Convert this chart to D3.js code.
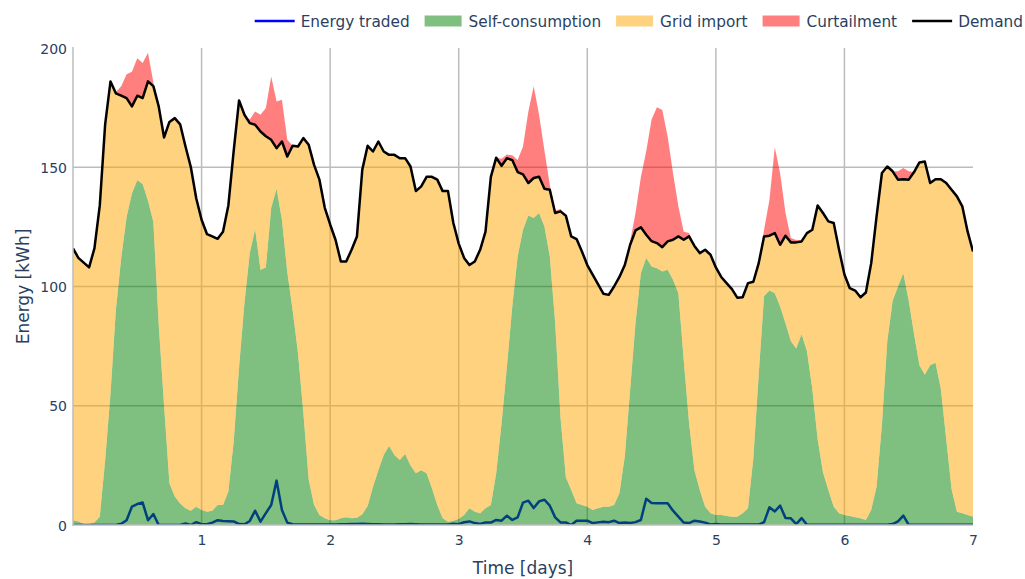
<!DOCTYPE html>
<html>
<head>
<meta charset="utf-8">
<script src="https://cdn.jsdelivr.net/npm/d3@7"></script>
<style>
  html, body { margin: 0; padding: 0; background: #fff; }
  svg { display: block; font-family: "DejaVu Sans", Verdana, sans-serif; }
</style>
</head>
<body>
<svg id="chart" width="1025" height="579"></svg>
<script>
// Hourly values over one week (169 samples, 0 .. 7 days), kWh per hour.
const demand = [
  116, 112, 110, 108, 116, 134, 168, 186, 181, 180, 179, 175.5, 180, 179, 186, 184, 175.5, 162.5, 169, 170.6, 168, 158.7, 150, 137,
  128, 122, 121, 120, 123, 134, 157, 178, 172, 168.5, 167.8, 165, 163, 161.5, 158, 160.8, 154.5, 159, 158.7, 162.2, 159.4, 151, 144.8, 133,
  126, 119.6, 110.5, 110.5, 115.4, 121, 149, 159, 156.6, 160.8, 156.6, 155.2, 155.2, 153.8, 153.8, 150.3, 140, 142, 146, 146, 144.8, 140, 140, 126.6,
  118, 112, 109, 110.5, 115.4, 123, 146, 154, 150.6, 153.8, 153, 148, 147, 143.4, 145.5, 146, 141, 140.6, 130.8, 131.5, 129.7, 121, 119.9, 114.7,
  109, 105, 101, 97, 96.5, 100, 104, 109, 117.5, 123.5, 124.8, 121.7, 119, 118.2, 116.5, 118.9, 119.6, 121, 119.6, 121, 117, 114, 115.4, 113.3,
  108, 104, 101.4, 98.9, 95.3, 95.5, 101.4, 102, 109.8, 121, 121.3, 122.4, 117.5, 121.3, 118.5, 118.5, 118.9, 122.4, 123.8, 134, 130.8, 127.3, 126.6, 115.4,
  105, 99.3, 98.3, 95.5, 97.5, 109.8, 129.4, 147.6, 150.3, 148.3, 144.8, 145, 144.8, 148, 152, 152.4, 143.4, 145, 145, 143.4, 140.6, 137.8, 133.6, 123, 114.7
];

const selfConsumption = [
  2, 1.5, 0.5, 0.5, 1, 3.5, 27, 55, 90, 112, 129, 139, 144.5, 143, 136, 127, 84, 50, 17.5, 12, 9, 7, 6, 7.7,
  6.3, 5.6, 6, 8.4, 8.4, 14, 35, 66, 93, 114, 124, 107, 108, 133, 141, 128, 106, 90, 72, 47, 19, 8.4, 4.2, 2.8,
  2, 2, 2.8, 3.2, 2.8, 3, 4.5, 8, 16, 23, 29.4, 33.1, 29.4, 27.3, 29.8, 25, 21.7, 23, 21.7, 15.4, 8.4, 2.8, 1.4, 1.8,
  2.5, 4.2, 7, 5.6, 4.9, 7, 8.4, 21.7, 42.7, 66.4, 91.6, 112.6, 123.8, 129.8, 128.7, 130.8, 125.2, 112.6, 85, 45, 20, 14.7, 9.1, 8.4,
  7.7, 6.3, 7, 7.7, 7.7, 8.4, 13.3, 28.7, 56.6, 84.6, 105.6, 111.9, 108.4, 107.7, 106.3, 107, 102.8, 97.2, 69.2, 42.7, 23, 14.7, 7.7, 4.9,
  4.2, 4.2, 3.8, 3.5, 3.5, 4.9, 7, 28, 63, 96, 98.3, 97.2, 91.6, 84.6, 77, 74, 80, 73, 57, 36, 22, 14.7, 7.7, 4.9,
  4.2, 3.8, 3.2, 2.8, 2.1, 6.3, 16, 42, 77, 94, 100, 105.6, 94, 80, 67, 63, 67, 68, 57, 36, 15, 5.6, 4.9, 4.2, 3.5
];

const curtailment = [
  0, 0, 0, 0, 0, 0, 0, 0, 0.5, 4, 10, 14.5, 15.7, 14.7, 12, 1.5, 0, 0, 0, 0, 0, 0, 0, 0,
  0, 0, 0, 0, 0, 0, 0, 0, 0, 1.5, 5.6, 7, 11.8, 26.5, 19.6, 17.5, 7, 0, 0, 0, 0, 0, 0, 0,
  0, 0, 0, 0, 0, 0, 0, 0, 0, 0, 0, 0, 0, 0, 0, 0, 0, 0, 0, 0, 0, 0, 0, 0,
  0, 0, 0, 0, 0, 0, 0, 0, 3, 1.5, 2, 5, 11.7, 30, 38.5, 26, 16, 2, 1, 1, 0, 0, 0, 0,
  0, 0, 0, 0, 0, 0, 0, 0, 1.4, 7.3, 21, 35, 51, 57, 57.5, 44, 28, 12.6, 3.4, 1.4, 0, 0, 0, 0,
  0, 0, 0, 0, 0, 0, 0, 0, 0, 2.8, 15, 36, 30, 9.5, 1.8, 1, 0.5, 0, 0, 0, 0, 0, 0, 0,
  0, 0, 0, 0, 0, 0, 0, 0, 0, 0, 3.5, 4.7, 3.5, 0, 0, 0, 0, 0, 0, 0, 0, 0, 0, 0, 0
];

const energyTraded = [
  0, 0, 0, 0, 0, 0, 0, 0, 0, 0.5, 2, 7.7, 8.8, 9.4, 2, 4.6, 0, 0, 0, 0, 0, 0.6, 0, 1.2,
  0.3, 0.3, 1, 2, 1.7, 1.6, 1.5, 0.4, 0.3, 1.7, 6, 1.4, 5, 8.4, 18.6, 6.3, 1, 0.3, 0.2, 0.2, 0.2, 0.2, 0.2, 0.2,
  0.2, 0.2, 0.3, 0.3, 0.4, 0.4, 0.5, 0.4, 0.3, 0.3, 0.2, 0.2, 0.2, 0.3, 0.3, 0.4, 0.3, 0.2, 0.2, 0.2, 0.2, 0.2, 0.2, 0.5,
  0.3, 1.2, 1.5, 0.8, 0.4, 1.1, 1, 2.1, 1.8, 3.9, 2.1, 3.2, 9.4, 10.2, 7.1, 9.9, 10.6, 8.1, 3.2, 1.1, 1.1, 0, 1.8, 1.8,
  1.8, 0.8, 1.1, 1.4, 1.2, 1.8, 0.8, 1, 0.8, 1.2, 2.1, 11, 9.2, 9.1, 9.1, 9.1, 6, 3.5, 1, 0.8, 1.8, 1.5, 1, 0.2,
  0.4, 0.2, 0.2, 0.2, 0.2, 0.2, 0.2, 0.2, 0.2, 1.2, 7.4, 5.7, 8.1, 2.9, 2.8, 0.4, 2.9, 0.1, 0.1, 0.1, 0.1, 0.1, 0.1, 0.1,
  0.1, 0.1, 0.1, 0.1, 0.1, 0.1, 0.1, 0.1, 0.1, 0.4, 1.5, 3.9, 0.1, 0.1, 0.1, 0.1, 0.1, 0.1, 0.1, 0.1, 0.1, 0.1, 0.1, 0.1, 0.1
];

const xTicks = [1, 2, 3, 4, 5, 6, 7];
const yTicks = [0, 50, 100, 150, 200];
const seriesNames = ["Energy traded", "Self-consumption", "Grid import", "Curtailment", "Demand"];
const xTitle = "Time [days]";
const yTitle = "Energy [kWh]";

// ---- layout ----
const plot = { left: 73, right: 973, top: 48, bottom: 525 };
const textColor = "#2a3f5f";
const gridColor = "#bcbcbc";

const svg = d3.select("#chart");

const rows = demand.map((d, i) => ({
  t: i / 24,
  demand: d,
  self: selfConsumption[i],
  curt: curtailment[i],
  traded: energyTraded[i]
}));

const x = d3.scaleLinear().domain([0, 7]).range([plot.left, plot.right]);
const y = d3.scaleLinear().domain([0, 200]).range([plot.bottom, plot.top]);

// clip region for the traces
svg.append("defs").append("clipPath").attr("id", "plot-clip")
  .append("rect")
  .attr("x", plot.left).attr("y", plot.top)
  .attr("width", plot.right - plot.left).attr("height", plot.bottom - plot.top);

// ---- grid ----
const grid = svg.append("g").attr("class", "grid");
grid.selectAll("line.gx").data(xTicks.filter(t => t < 7)).join("line")
  .attr("x1", d => x(d)).attr("x2", d => x(d))
  .attr("y1", plot.top).attr("y2", plot.bottom)
  .attr("stroke", gridColor).attr("stroke-width", 1.5);
grid.selectAll("line.gy").data(yTicks.filter(t => t > 0 && t < 200)).join("line")
  .attr("x1", plot.left).attr("x2", plot.right)
  .attr("y1", d => y(d)).attr("y2", d => y(d))
  .attr("stroke", gridColor).attr("stroke-width", 1.5);

// ---- traces ----
const traces = svg.append("g").attr("clip-path", "url(#plot-clip)");

const tradedLine = d3.line().x(d => x(d.t)).y(d => y(d.traded));
traces.append("path").datum(rows)
  .attr("d", tradedLine)
  .attr("fill", "none").attr("stroke", "#0000ff").attr("stroke-width", 2.5)
  .attr("stroke-linejoin", "round");

const selfArea = d3.area().x(d => x(d.t)).y0(y(0)).y1(d => y(d.self));
const gridArea = d3.area().x(d => x(d.t)).y0(d => y(d.self)).y1(d => y(d.demand));
const curtArea = d3.area().x(d => x(d.t)).y0(d => y(d.demand)).y1(d => y(d.demand + d.curt));

traces.append("path").datum(rows).attr("d", selfArea).attr("fill", "rgba(0,128,0,0.5)");
traces.append("path").datum(rows).attr("d", gridArea).attr("fill", "rgba(255,165,0,0.5)");
traces.append("path").datum(rows).attr("d", curtArea).attr("fill", "rgba(255,0,0,0.5)");

const demandLine = d3.line().x(d => x(d.t)).y(d => y(d.demand));
traces.append("path").datum(rows)
  .attr("d", demandLine)
  .attr("fill", "none").attr("stroke", "#000").attr("stroke-width", 2.5)
  .attr("stroke-linejoin", "round");

// ---- axes ----
const axisG = svg.append("g");
axisG.append("line")
  .attr("x1", plot.left).attr("x2", plot.left)
  .attr("y1", plot.top - 1).attr("y2", plot.bottom + 1)
  .attr("stroke", gridColor).attr("stroke-width", 1.5);
axisG.append("line")
  .attr("x1", plot.left).attr("x2", plot.right)
  .attr("y1", plot.bottom).attr("y2", plot.bottom)
  .attr("stroke", gridColor).attr("stroke-width", 1.5);

const xAxis = d3.axisBottom(x).tickValues(xTicks).tickSize(0).tickPadding(0).tickFormat(d3.format("d"));
const gx = svg.append("g").attr("transform", `translate(0,${plot.bottom})`).call(xAxis);
gx.select(".domain").remove();
gx.selectAll("text")
  .attr("y", 20).attr("dy", null)
  .attr("fill", textColor).style("font-size", "14px")
  .style("font-family", '"DejaVu Sans", Verdana, sans-serif');

const yAxis = d3.axisLeft(y).tickValues(yTicks).tickSize(0).tickPadding(0).tickFormat(d3.format("d"));
const gy = svg.append("g").attr("transform", `translate(${plot.left - 6},0)`).call(yAxis);
gy.select(".domain").remove();
gy.selectAll("text")
  .attr("x", 0).attr("dy", "0.36em")
  .attr("fill", textColor).style("font-size", "14px")
  .style("font-family", '"DejaVu Sans", Verdana, sans-serif');

svg.append("text")
  .attr("x", (plot.left + plot.right) / 2).attr("y", 574)
  .attr("text-anchor", "middle").attr("fill", textColor)
  .style("font-size", "17px").text(xTitle);

svg.append("text")
  .attr("transform", `translate(29,${(plot.top + plot.bottom) / 2}) rotate(-90)`)
  .attr("text-anchor", "middle").attr("fill", textColor)
  .style("font-size", "17px").text(yTitle);

// ---- legend (right-aligned so the last label stays inside the frame) ----
const legendItems = [
  { name: seriesNames[0], kind: "line", color: "#0000ff" },
  { name: seriesNames[1], kind: "fill", color: "rgba(0,128,0,0.5)" },
  { name: seriesNames[2], kind: "fill", color: "rgba(255,165,0,0.5)" },
  { name: seriesNames[3], kind: "fill", color: "rgba(255,0,0,0.5)" },
  { name: seriesNames[4], kind: "line", color: "#000" }
];
const legend = svg.append("g");
let lx = 0;
legendItems.forEach((item, i) => {
  const g = legend.append("g").attr("transform", `translate(${lx},0)`);
  if (item.kind === "line") {
    g.append("line").attr("x1", 0).attr("x2", 40).attr("y1", 0).attr("y2", 0)
      .attr("stroke", item.color).attr("stroke-width", 2.5);
  } else {
    g.append("rect").attr("x", 0).attr("y", -5.5).attr("width", 37).attr("height", 11)
      .attr("fill", item.color);
  }
  const tx = item.kind === "line" ? 46 : 44;
  const label = g.append("text")
    .attr("x", tx).attr("dy", "0.36em")
    .attr("fill", textColor).style("font-size", "15.3px").text(item.name);
  lx += tx + label.node().getComputedTextLength() + (i < legendItems.length - 1 ? 15 : 0);
});
legend.attr("transform", `translate(${1023 - lx},21)`);
</script>
</body>
</html>
